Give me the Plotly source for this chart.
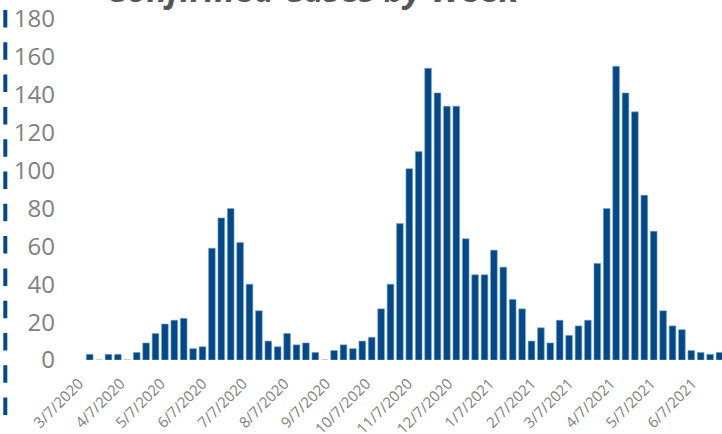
import pandas as pd
import plotly.graph_objects as go

title_text = "Confirmed Cases by Week"
start_week = "2020-03-15"
cases = [3, 0, 3, 3, 0, 4, 9, 14, 19, 21, 22, 6, 7, 59, 75, 80, 62, 40, 26, 10,
         7, 14, 8, 9, 4, 0, 5, 8, 6, 10, 12, 27, 40, 72, 101, 110, 154, 141, 134, 134,
         64, 45, 45, 58, 49, 32, 27, 10, 17, 9, 21, 13, 18, 21, 51, 80, 155, 141, 131, 87,
         68, 26, 18, 16, 5, 4, 3, 4]
weeks = pd.date_range(start_week, periods=len(cases), freq="7D")
tick_dates = ["2020-03-07", "2020-04-07", "2020-05-07", "2020-06-07", "2020-07-07",
              "2020-08-07", "2020-09-07", "2020-10-07", "2020-11-07", "2020-12-07",
              "2021-01-07", "2021-02-07", "2021-03-07", "2021-04-07", "2021-05-07",
              "2021-06-07"]
tick_labels = ["3/7/2020", "4/7/2020", "5/7/2020", "6/7/2020", "7/7/2020", "8/7/2020",
               "9/7/2020", "10/7/2020", "11/7/2020", "12/7/2020", "1/7/2021", "2/7/2021",
               "3/7/2021", "4/7/2021", "5/7/2021", "6/7/2021"]
y_ticks = list(range(0, 181, 20))

W, H = 722, 434
L, T, B, R = 58, 19, 74, 0
pw = W - L - R
ph = H - T - B
px_per_day = 9.4 / 7.0
x_start = pd.Timestamp(start_week) - pd.Timedelta(days=(89.7 - L) / px_per_day)
x_end = x_start + pd.Timedelta(days=pw / px_per_day)

fig = go.Figure()
fig.add_trace(go.Bar(
    x=weeks, y=cases,
    marker=dict(color="#03498A", line=dict(color="#7FA3C6", width=0.6)),
    width=6.7 / px_per_day * 86400000,
    hoverinfo="x+y",
))

def sy(py):
    return (H - B - py) / ph

def sx(px):
    return (px - L) / pw

fig.add_shape(type="line", xref="paper", yref="paper",
              x0=sx(5.3), x1=sx(5.3), y0=sy(10), y1=sy(416),
              line=dict(color="#03498A", width=4, dash="17.5px,14.8px"))

fig.add_annotation(text=title_text, xref="paper", yref="paper",
                   x=sx(313), y=sy(-11.5),
                   xanchor="center", yanchor="middle", showarrow=False,
                   font=dict(family="Open Sans", size=34, color="#555555",
                             weight="bold", style="italic"))

fig.update_layout(
    width=W, height=H,
    margin=dict(l=L, r=R, t=T, b=B, pad=0, autoexpand=False),
    paper_bgcolor="white", plot_bgcolor="white",
    showlegend=False,
    font=dict(family="Open Sans", color="#808080"),
    xaxis=dict(type="date", range=[x_start, x_end], tickvals=tick_dates,
               ticktext=tick_labels, tickangle=-45, showgrid=False, zeroline=False,
               showline=False, ticks="", tickfont=dict(size=15, color="#808080"),
               ticklabelstandoff=11, automargin=False, ticklabeloverflow="allow"),
    yaxis=dict(range=[0, 180], tickvals=y_ticks, showgrid=False, zeroline=False,
               showline=False, ticks="", tickfont=dict(size=24, color="#808080"),
               ticklabelstandoff=2, automargin=False, ticklabeloverflow="allow"),
)

fig.write_html("out.html",
               config={"displayModeBar": False},
               post_script="document.body.style.margin='0';"
                           "document.documentElement.style.overflow='hidden';")
